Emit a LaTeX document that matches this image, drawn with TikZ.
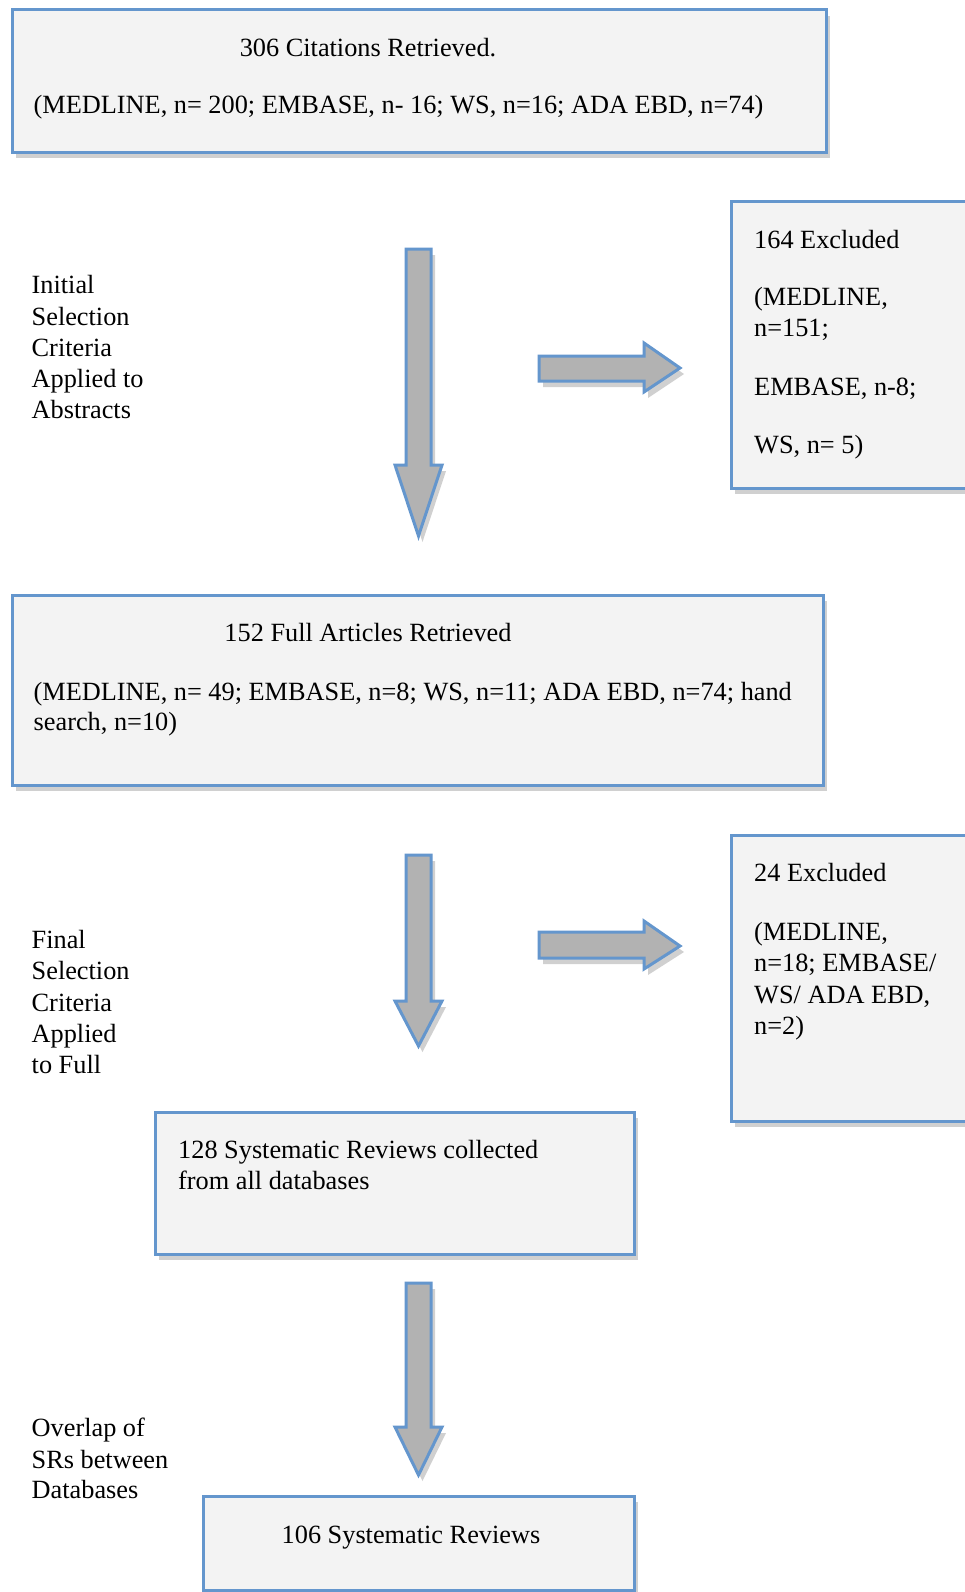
\documentclass[tikz,border=0pt]{standalone}
\usepackage{fontspec}
\setmainfont{Liberation Serif}
\usetikzlibrary{shadows}
\definecolor{bordblue}{RGB}{100,150,205}
\definecolor{boxfill}{RGB}{243,243,243}
\definecolor{arrfill}{RGB}{178,178,178}
\begin{document}
\begin{tikzpicture}[x=1pt,y=-1pt,
  shad/.style={drop shadow={shadow xshift=4pt, shadow yshift=-6pt, opacity=0.3, fill=black!60}},
  box/.style={draw=bordblue, line width=3pt, fill=boxfill, inner sep=0pt, outer sep=0pt, shad},
  blockarrow/.style={draw=bordblue, line width=3pt, fill=arrfill, line join=miter, shad},
  txt/.style={anchor=west, inner sep=0pt, text height=19pt, text depth=6pt, font=\fontsize{26.3}{31}\selectfont},
  ctxt/.style={txt, anchor=center}]
\clip (0,0) rectangle (965,1592);
\fill[white] (0,0) rectangle (965,1592);

% boxes
\node[box, minimum width=814, minimum height=142] (b1) at (419,81) {};
\node[box, minimum width=259, minimum height=287] (e1) at (860.5,344.5) {};
\node[box, minimum width=811, minimum height=190] (b2) at (417.5,690) {};
\node[box, minimum width=259, minimum height=286] (e2) at (860.5,978) {};
\node[box, minimum width=479, minimum height=142] (b3) at (394.5,1183) {};
\node[box, minimum width=431, minimum height=94] (b4) at (418.5,1543) {};

% block arrows
\draw[blockarrow] (406,249) -- (431,249) -- (431,465) -- (442,465) -- (418.5,536) -- (395,465) -- (406,465) -- cycle;
\draw[blockarrow] (406,855) -- (431,855) -- (431,1001) -- (442,1001) -- (418.5,1046) -- (395,1001) -- (406,1001) -- cycle;
\draw[blockarrow] (406,1283) -- (431,1283) -- (431,1427) -- (442,1427) -- (418.5,1475) -- (395,1427) -- (406,1427) -- cycle;
\draw[blockarrow] (539,356) -- (644,356) -- (644,343) -- (680,368) -- (644,392) -- (644,381) -- (539,381) -- cycle;
\draw[blockarrow] (539,932) -- (644,932) -- (644,921) -- (680,946) -- (644,969) -- (644,958) -- (539,958) -- cycle;

% box 1 text
\node[ctxt] (t1a) at (368,50) {306 Citations Retrieved.};
\node[txt] (t1b) at (33.5,107) {(MEDLINE, n= 200; EMBASE, n- 16; WS, n=16; ADA EBD, n=74)};

% excluded 1
\node[txt] (e1a) at (754,242) {164 Excluded};
\node[txt] (e1b) at (754,299) {(MEDLINE,};
\node[txt] (e1c) at (754,330) {n=151;};
\node[txt] (e1d) at (754,389) {EMBASE, n-8;};
\node[txt] (e1e) at (754,447) {WS, n= 5)};

% label 1
\node[txt] (l1a) at (31.5,287) {Initial};
\node[txt] (l1b) at (31.5,319) {Selection};
\node[txt] (l1c) at (31.5,350) {Criteria};
\node[txt] (l1d) at (31.5,381) {Applied to};
\node[txt] (l1e) at (31.5,412) {Abstracts};

% box 2 text
\node[ctxt] (t2a) at (368,635) {152 Full Articles Retrieved};
\node[txt] (t2b) at (33.5,694) {(MEDLINE, n= 49; EMBASE, n=8; WS, n=11; ADA EBD, n=74; hand};
\node[txt] (t2c) at (33.5,724) {search, n=10)};

% excluded 2
\node[txt] (e2a) at (754,875) {24 Excluded};
\node[txt] (e2b) at (754,933.5) {(MEDLINE,};
\node[txt] (e2c) at (754,965) {n=18; EMBASE/};
\node[txt] (e2d) at (754,996.5) {WS/ ADA EBD,};
\node[txt] (e2e) at (754,1028) {n=2)};

% label 2
\node[txt] (l2a) at (31.5,942) {Final};
\node[txt] (l2b) at (31.5,973) {Selection};
\node[txt] (l2c) at (31.5,1004.5) {Criteria};
\node[txt] (l2d) at (31.5,1036) {Applied};
\node[txt] (l2e) at (31.5,1066.5) {to Full};

% box 3 text
\node[txt] (t3a) at (178,1152) {128 Systematic Reviews collected};
\node[txt] (t3b) at (178,1183) {from all databases};

% label 3
\node[txt] (l3a) at (31.5,1430) {Overlap of};
\node[txt] (l3b) at (31.5,1462) {SRs between};
\node[txt] (l3c) at (31.5,1492) {Databases};

% box 4 text
\node[ctxt] (t4a) at (411,1537) {106 Systematic Reviews};
\end{tikzpicture}
\end{document}
